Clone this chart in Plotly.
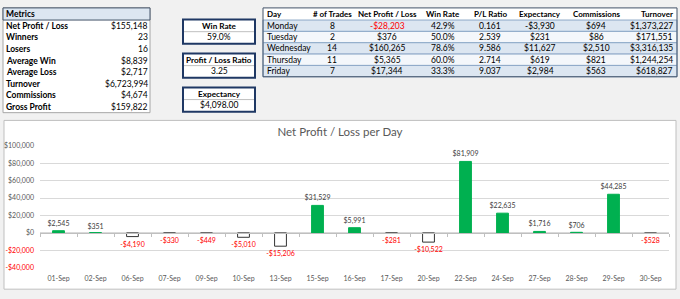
import plotly.graph_objects as go

W, H = 680, 299
FONT = "Lato"
TFONT = "Lato"
TSIZE = 8.5

# ---------------- data ----------------
metric_labels = ["Net Profit / Loss", "Winners", "Losers", "Average Win",
                 "Average Loss", "Turnover", "Commissions", "Gross Profit"]
metric_values = ["$155,148", "23", "16", "$8,839", "$2,717",
                 "$6,723,994", "$4,674", "$159,822"]

kpi_titles = ["Win Rate", "Profit / Loss Ratio", "Expectancy"]
kpi_values = ["59.0%", "3.25", "$4,098.00"]

day_headers = ["Day", "# of Trades", "Net Profit / Loss", "Win Rate",
               "P/L Ratio", "Expectancy", "Commissions", "Turnover"]
days = ["Monday", "Tuesday", "Wednesday", "Thursday", "Friday"]
day_trades = [8, 2, 14, 11, 7]
day_net = [-28203, 376, 160265, 5365, 17344]
day_winrate = ["42.9%", "50.0%", "78.6%", "60.0%", "33.3%"]
day_plratio = ["0.161", "2.539", "9.586", "2.714", "9.037"]
day_expectancy = [-3930, 231, 11627, 619, 2984]
day_commissions = [694, 86, 2510, 821, 563]
day_turnover = [1373227, 171551, 3316135, 1244254, 618827]

dates = ["01-Sep", "02-Sep", "06-Sep", "07-Sep", "09-Sep", "10-Sep", "13-Sep",
         "15-Sep", "16-Sep", "17-Sep", "20-Sep", "22-Sep", "24-Sep", "27-Sep",
         "28-Sep", "29-Sep", "30-Sep"]
net_pl = [2545, 351, -4190, -330, -449, -5010, -15206, 31529, 5991, -281,
          -10522, 81909, 22635, 1716, 706, 44285, -528]
y_ticks = [-40000, -20000, 0, 20000, 40000, 60000, 80000, 100000]
y_range = [-40000, 100000]
chart_title = "Net Profit / Loss per Day"


def money(v):
    return ("-" if v < 0 else "") + "$" + f"{abs(v):,}"


def px(x):
    return x / W


def py(y):
    return 1 - y / H


RED = "#ff0000"
GREEN = "#00b050"
NAVY = "#1f3864"
TXT = "#000000"
GRAYTXT = "#595959"

annotations = []
shapes = []


def text(x, y, s, anchor="left", size=TSIZE, bold=False, color=TXT):
    if bold:
        s = "<b>" + s + "</b>"
    annotations.append(dict(x=px(x), y=py(y), xref="paper", yref="paper",
                            text=s, showarrow=False, xanchor=anchor,
                            yanchor="middle", borderpad=0,
                            font=dict(family=TFONT, size=size, color=color)))


def rect(x0, y0, x1, y1, fill, line=None, lw=1, layer="below"):
    shapes.append(dict(type="rect", xref="paper", yref="paper",
                       x0=px(x0), x1=px(x1), y0=py(y1), y1=py(y0),
                       fillcolor=fill, layer=layer,
                       line=dict(color=line if line else fill, width=lw if line else 0)))


def hline(x0, x1, y, color, lw=1):
    shapes.append(dict(type="line", xref="paper", yref="paper",
                       x0=px(x0), x1=px(x1), y0=py(y), y1=py(y),
                       line=dict(color=color, width=lw), layer="below"))


# ---------------- metrics table ----------------
MT_X0, MT_X1, MT_Y0, MT_Y1 = 3, 150, 3, 111
MT_HEAD = 12.5
mt_row = (MT_Y1 - MT_Y0 - MT_HEAD) / len(metric_labels)
rect(MT_X0, MT_Y0, MT_X1, MT_Y1, "#ffffff", "#a6a6a6")
rect(MT_X0, MT_Y0, MT_X1, MT_Y0 + MT_HEAD, "#dce6f1", "#44546a")
text(MT_X0 + 2, MT_Y0 + MT_HEAD / 2, "Metrics", bold=True)
for i, (lab, val) in enumerate(zip(metric_labels, metric_values)):
    yc = MT_Y0 + MT_HEAD + mt_row * (i + 0.5)
    text(MT_X0 + 2, yc, lab, bold=True)
    text(MT_X1 - 1, yc, val, anchor="right")

# ---------------- KPI boxes ----------------
KB_X0, KB_X1 = 183, 255
kb_tops = [15, 50, 85]
KB_H = 25
for top, t, v in zip(kb_tops, kpi_titles, kpi_values):
    rect(KB_X0, top, KB_X1, top + KB_H, "#ffffff", NAVY, 2)
    hline(KB_X0 + 1, KB_X1 - 1, top + KB_H / 2, "#bfbfbf")
    xc = (KB_X0 + KB_X1) / 2
    text(xc, top + KB_H * 0.27, t, anchor="center", bold=True, size=8.2)
    text(xc, top + KB_H * 0.74, v, anchor="center")

# ---------------- day table ----------------
DT_X0, DT_X1, DT_Y0 = 263, 677, 3
DT_HEAD = 12.5
dt_row = 11.7
DT_Y1 = DT_Y0 + DT_HEAD + dt_row * len(days)
rect(DT_X0, DT_Y0, DT_X1, DT_Y1, "#ffffff")
for i in range(len(days)):
    y0 = DT_Y0 + DT_HEAD + dt_row * i
    fill = "#dce6f1" if i % 2 == 0 else "#f4f7fb"
    rect(DT_X0, y0, DT_X1, y0 + dt_row, fill, "#8ea9c8", 1)
rect(DT_X0, DT_Y0, DT_X1, DT_Y1, "rgba(0,0,0,0)", "#44546a", 1)

col_x = [266, 332, 387, 443, 490, 540, 596, 674]
col_anchor = ["left", "center", "center", "center", "center", "center", "center", "right"]
for h, x, a in zip(day_headers, col_x, col_anchor):
    text(x, DT_Y0 + DT_HEAD / 2, h, anchor=a, bold=True, size=8)
rows = list(zip(days, day_trades, day_net, day_winrate, day_plratio,
                day_expectancy, day_commissions, day_turnover))
for i, r in enumerate(rows):
    yc = DT_Y0 + DT_HEAD + dt_row * (i + 0.5)
    cells = [r[0], str(r[1]), money(r[2]), r[3], r[4], money(r[5]),
             money(r[6]), money(r[7])]
    for j, (c, x, a) in enumerate(zip(cells, col_x, col_anchor)):
        color = RED if (j == 2 and r[2] < 0) else TXT
        text(x, yc, c, anchor=a, color=color)

# ---------------- chart ----------------
rect(4, 119, 676, 293, "#ffffff", "#bfbfbf")

PL_X0, PL_X1, PL_Y0, PL_Y1 = 40, 669, 145, 271
ydom = [py(PL_Y1), py(PL_Y0)]
zero_pos = ydom[0] + (0 - y_range[0]) / (y_range[1] - y_range[0]) * (ydom[1] - ydom[0])

bar_fill = [GREEN if v >= 0 else "#ffffff" for v in net_pl]
bar_line = [GREEN if v >= 0 else "#333333" for v in net_pl]
lab_col = ["#404040" if v >= 0 else RED for v in net_pl]

fig = go.Figure()
fig.add_trace(go.Bar(
    x=dates, y=net_pl, width=0.32,
    marker=dict(color=bar_fill, line=dict(color=bar_line, width=1)),
    text=[money(v) for v in net_pl], textposition="outside",
    textfont=dict(family=FONT, size=7, color=lab_col),
    constraintext="none", cliponaxis=False, showlegend=False,
    hoverinfo="x+y"))
fig.add_trace(go.Scatter(
    x=dates, y=net_pl, xaxis="x2", yaxis="y", mode="markers",
    marker=dict(opacity=0), hoverinfo="skip", showlegend=False))

tick_text = [("<span style='color:%s'>%s</span>" % (RED, money(v))) if v < 0 else money(v)
             for v in y_ticks]

fig.update_layout(
    width=W, height=H,
    margin=dict(l=0, r=0, t=0, b=0),
    paper_bgcolor="#f1f1f1",
    plot_bgcolor="#ffffff",
    font=dict(family=FONT, color=TXT),
    title=dict(text=chart_title, x=0.5, xanchor="center", y=py(132),
               yanchor="middle", font=dict(family=FONT, size=11.5, color=GRAYTXT)),
    xaxis=dict(domain=[px(PL_X0), px(PL_X1)], type="category",
               categoryorder="array", categoryarray=dates,
               range=[-0.5, len(dates) - 0.5], showgrid=False, zeroline=False,
               showline=False, ticks="", ticklabelstandoff=5,
               tickfont=dict(family=FONT, size=7, color=GRAYTXT), fixedrange=True),
    xaxis2=dict(domain=[px(PL_X0), px(PL_X1)], type="category",
                categoryorder="array", categoryarray=dates,
                range=[-0.5, len(dates) - 0.5], overlaying="x", anchor="free",
                position=zero_pos, side="bottom", showline=True,
                linecolor="#bfbfbf", linewidth=1, ticks="outside", ticklen=3,
                tickcolor="#bfbfbf", tickson="boundaries", showticklabels=False,
                showgrid=False, zeroline=False, fixedrange=True),
    yaxis=dict(domain=ydom, range=y_range, tickvals=y_ticks, ticktext=tick_text,
               showgrid=True, gridcolor="#d9d9d9", gridwidth=1, zeroline=False,
               showline=False, ticks="", ticklabelstandoff=5,
               tickfont=dict(family=FONT, size=7, color=GRAYTXT), fixedrange=True),
    annotations=annotations,
    shapes=shapes,
    bargap=0.6,
)

fig.write_html("out.html")
